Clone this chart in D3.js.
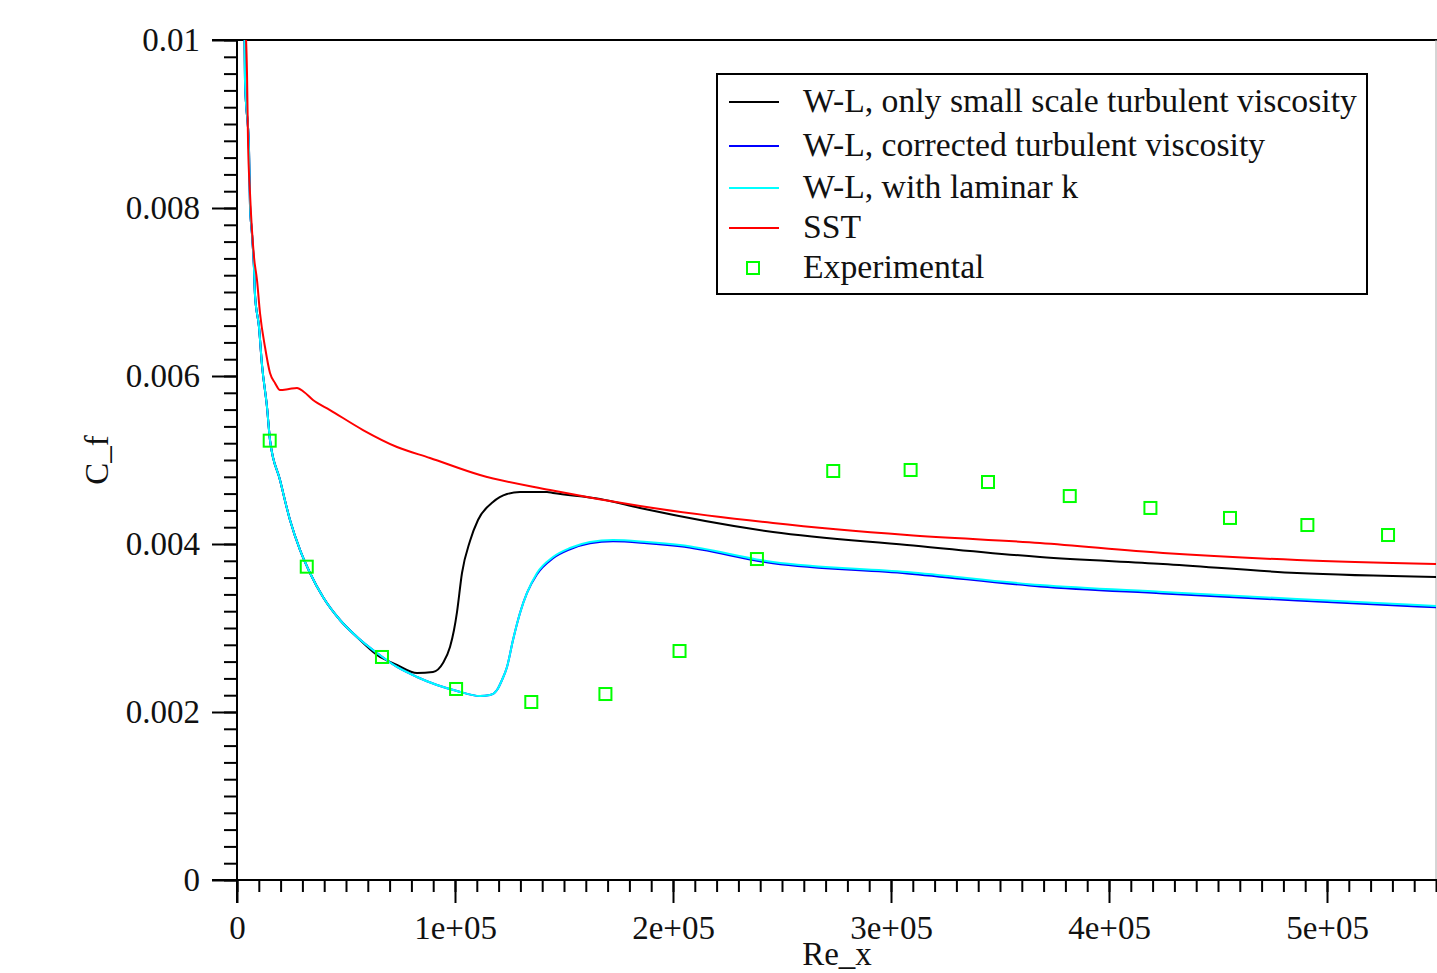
<!DOCTYPE html>
<html lang="en">
    <head>
        <meta charset="utf-8">
        <title>C_f vs Re_x</title>
        <script type="text/javascript" src="https://cdn.jsdelivr.net/npm/d3@7"></script>
        <style>
            body { margin: 0; background: #fff; }
            text { font-family: "Liberation Serif", "DejaVu Serif", serif; }
        </style>
    </head>
    <body>
        <script type="text/javascript">
        // experimental points
        var expRe = [15000, 32000, 66500, 100500, 135000, 169000, 203000, 238500, 273500, 309000, 344500, 382000, 419000, 455500, 491000, 528000];
        var expCf = [0.00523, 0.00373, 0.002655, 0.002274, 0.002119, 0.002214, 0.002726, 0.003821, 0.004869, 0.004881, 0.004738, 0.004571, 0.004429, 0.00431, 0.004226, 0.004107];

        // SST
        var sstRe = [3670, 4587, 5046, 5963, 7798, 9174, 10550, 12844, 15138, 17431, 19725, 23853, 27523, 30734, 34862, 42661, 57798, 73394, 88532, 111467, 143578, 184862, 245872, 307339, 368348, 424771, 486239, 550459];
        var sstCf = [0.01024, 0.009607, 0.00881, 0.008179, 0.007417, 0.007143, 0.00675, 0.006345, 0.006036, 0.005917, 0.005833, 0.005845, 0.005857, 0.00581, 0.005714, 0.005595, 0.005357, 0.005155, 0.005024, 0.004821, 0.004643, 0.004452, 0.00425, 0.004107, 0.004012, 0.003893, 0.00381, 0.003762];

        // W-L, with laminar k
        var lamRe = [3440, 3670, 5505, 5963, 6881, 7798, 8257, 10092, 11468, 13761, 15138, 19725, 24312, 28899, 33486, 39450, 47248, 55046, 64220, 73394, 82569, 91743, 100917, 111468, 116055, 119266, 121560, 123853, 126606, 129817, 133028, 137615, 144954, 152752, 161927, 172477, 188073, 203211, 245872, 307339, 368348, 424771, 486239, 550459];
        var lamCf = [0.01012, 0.009524, 0.00869, 0.008036, 0.00769, 0.007286, 0.006964, 0.006583, 0.006131, 0.005631, 0.005238, 0.004762, 0.004286, 0.003929, 0.003655, 0.003369, 0.003095, 0.002893, 0.002702, 0.002536, 0.002417, 0.002321, 0.00225, 0.00219, 0.002202, 0.002262, 0.002381, 0.002536, 0.002857, 0.003179, 0.003417, 0.003655, 0.003845, 0.003952, 0.004024, 0.004048, 0.004024, 0.003988, 0.003786, 0.003667, 0.003512, 0.003429, 0.003345, 0.003262];

        // W-L, corrected turbulent viscosity (sits just under the cyan one)
        var corRe = [3440, 3670, 5505, 5963, 6881, 7798, 8257, 10092, 11468, 13761, 15138, 19725, 24312, 28899, 33486, 39450, 47248, 55046, 64220, 73394, 82569, 91743, 100917, 111468, 116055, 119266, 121560, 123853, 126606, 129817, 133028, 137615, 144954, 152752, 161927, 172477, 188073, 203211, 245872, 307339, 368348, 424771, 486239, 550459];
        var corCf = [0.01012, 0.009524, 0.00869, 0.008036, 0.00769, 0.007286, 0.006964, 0.006583, 0.006131, 0.005631, 0.005238, 0.004762, 0.004286, 0.003929, 0.003655, 0.003369, 0.003095, 0.002893, 0.002702, 0.002536, 0.002417, 0.002321, 0.00225, 0.00219, 0.002202, 0.002262, 0.002381, 0.002536, 0.002857, 0.003179, 0.003417, 0.00364, 0.00383, 0.003937, 0.004009, 0.004033, 0.004009, 0.003972, 0.00377, 0.00365, 0.003495, 0.003412, 0.003328, 0.003245];

        // W-L, only small scale turbulent viscosity
        var smlRe = [3440, 3670, 5505, 5963, 6881, 7798, 8257, 10092, 11468, 13761, 15138, 19725, 24312, 28899, 33486, 39450, 47248, 55046, 64220, 73394, 82569, 89908, 94495, 97706, 99541, 100917, 103211, 106881, 110550, 117431, 123853, 129817, 142202, 144954, 166514, 184862, 245872, 307339, 368348, 424771, 486239, 550459];
        var smlCf = [0.01012, 0.009524, 0.00869, 0.008036, 0.00769, 0.007286, 0.006964, 0.006583, 0.006131, 0.005631, 0.005238, 0.004762, 0.004286, 0.003929, 0.003655, 0.003369, 0.003095, 0.002893, 0.002679, 0.00256, 0.002464, 0.002476, 0.002583, 0.002774, 0.002976, 0.00319, 0.003655, 0.004036, 0.004286, 0.0045, 0.004595, 0.004619, 0.004619, 0.004607, 0.004536, 0.004429, 0.004143, 0.003988, 0.003845, 0.003762, 0.003655, 0.003607];

        var seriesNames = ["W-L, only small scale turbulent viscosity", "W-L, corrected turbulent viscosity", "W-L, with laminar k", "SST", "Experimental"];
        var seriesColors = ["#000000", "#0000ff", "#00ffff", "#ff0000", "#00ff00"];

        var xTicks = [0, 1e5, 2e5, 3e5, 4e5, 5e5];
        var xTickLabels = ["0", "1e+05", "2e+05", "3e+05", "4e+05", "5e+05"];
        var yTicks = [0, 0.002, 0.004, 0.006, 0.008, 0.01];
        var yTickLabels = ["0", "0.002", "0.004", "0.006", "0.008", "0.01"];

        var w = 1437;
        var h = 973;
        var padL = 237, padR = 1436, padT = 40, padB = 880;
        var fs = "33px";

        var xScale = d3.scaleLinear().domain([0, 5.5e5]).range([padL, padR]);
        var yScale = d3.scaleLinear().domain([0, 0.01]).range([padB, padT]);

        var svg = d3.select("body")
                    .append("svg")
                    .attr("width", w)
                    .attr("height", h);

        svg.append("clipPath")
            .attr("id", "plotclip")
            .append("rect")
            .attr("x", padL)
            .attr("y", padT)
            .attr("width", padR - padL)
            .attr("height", padB - padT);

        // frame: top and right edges
        svg.append("line")
            .attr("x1", padL - 25).attr("x2", w)
            .attr("y1", padT).attr("y2", padT)
            .attr("stroke", "#000").attr("stroke-width", 2);
        svg.append("line")
            .attr("x1", padR).attr("x2", padR)
            .attr("y1", padT).attr("y2", padB)
            .attr("stroke", "#aaa").attr("stroke-width", 1);

        // minor ticks
        var minorX = d3.range(0, 5.5e5 + 1, 1e4);
        var minorY = d3.range(0, 0.01 + 1e-9, 0.0002);

        svg.append("g")
            .attr("transform", "translate(0," + padB + ")")
            .call(d3.axisBottom(xScale).tickValues(minorX).tickSize(12).tickFormat(""))
            .call(function(g) { g.select(".domain").remove(); })
            .selectAll("line").attr("stroke-width", 2);

        svg.append("g")
            .attr("transform", "translate(" + padL + ",0)")
            .call(d3.axisLeft(yScale).tickValues(minorY).tickSize(13).tickFormat(""))
            .call(function(g) { g.select(".domain").remove(); })
            .selectAll("line").attr("stroke-width", 2);

        // major axes
        var xAxis = svg.append("g")
            .attr("transform", "translate(0," + padB + ")")
            .call(d3.axisBottom(xScale)
                .tickValues(xTicks)
                .tickSize(23)
                .tickSizeOuter(0)
                .tickPadding(13)
                .tickFormat(function(d, i) { return xTickLabels[i]; }));
        xAxis.select(".domain").attr("d", "M" + (padL - 25) + ",0H" + w).attr("stroke-width", 2);
        xAxis.selectAll("line").attr("stroke-width", 2);
        xAxis.selectAll("text")
            .attr("font-size", fs)
            .attr("fill", "#111");

        var yAxis = svg.append("g")
            .attr("transform", "translate(" + padL + ",0)")
            .call(d3.axisLeft(yScale)
                .tickValues(yTicks)
                .tickSize(25)
                .tickSizeOuter(0)
                .tickPadding(12)
                .tickFormat(function(d, i) { return yTickLabels[i]; }));
        yAxis.select(".domain").attr("d", "M0," + (padB + 23) + "V" + padT).attr("stroke-width", 2);
        yAxis.selectAll("line").attr("stroke-width", 2);
        yAxis.selectAll("text")
            .attr("font-size", fs)
            .attr("fill", "#111");

        // axis titles
        svg.append("text")
            .attr("transform", "translate(108,460) rotate(-90)")
            .attr("text-anchor", "middle")
            .attr("font-size", fs)
            .attr("fill", "#111")
            .text("C_f");

        svg.append("text")
            .attr("x", 837)
            .attr("y", 965)
            .attr("text-anchor", "middle")
            .attr("font-size", fs)
            .attr("fill", "#111")
            .text("Re_x");

        // curves, drawn so that cyan covers black and blue where they share a path
        var line = d3.line()
                    .x(function(d) { return xScale(d[0]); })
                    .y(function(d) { return yScale(d[1]); })
                    .curve(d3.curveMonotoneX);

        var curves = [
            [smlRe, smlCf, 0],
            [corRe, corCf, 1],
            [lamRe, lamCf, 2],
            [sstRe, sstCf, 3]
        ];

        var plot = svg.append("g").attr("clip-path", "url(#plotclip)");

        plot.selectAll("path.curve")
            .data(curves)
            .enter()
            .append("path")
            .attr("class", "curve")
            .attr("d", function(c) { return line(d3.zip(c[0], c[1])); })
            .attr("fill", "none")
            .attr("stroke", function(c) { return seriesColors[c[2]]; })
            .attr("stroke-width", 2);

        var sq = 12;
        plot.selectAll("rect.exp")
            .data(d3.zip(expRe, expCf))
            .enter()
            .append("rect")
            .attr("class", "exp")
            .attr("x", function(d) { return xScale(d[0]) - sq / 2; })
            .attr("y", function(d) { return yScale(d[1]) - sq / 2; })
            .attr("width", sq)
            .attr("height", sq)
            .attr("fill", "none")
            .attr("stroke", seriesColors[4])
            .attr("stroke-width", 2);

        // legend
        var legend = svg.append("g");
        legend.append("rect")
            .attr("x", 717)
            .attr("y", 74)
            .attr("width", 650)
            .attr("height", 220)
            .attr("fill", "#fff")
            .attr("stroke", "#000")
            .attr("stroke-width", 2);

        var rowY = [102, 146, 188, 228, 268];

        var rows = legend.selectAll("g.row")
            .data(seriesNames)
            .enter()
            .append("g")
            .attr("class", "row")
            .attr("transform", function(d, i) { return "translate(0," + rowY[i] + ")"; });

        rows.filter(function(d, i) { return i < 4; })
            .append("line")
            .attr("x1", 729).attr("x2", 779)
            .attr("y1", 0).attr("y2", 0)
            .attr("stroke", function(d) { return seriesColors[seriesNames.indexOf(d)]; })
            .attr("stroke-width", 2);

        rows.filter(function(d, i) { return i == 4; })
            .append("rect")
            .attr("x", 747).attr("y", -6)
            .attr("width", 12).attr("height", 12)
            .attr("fill", "none")
            .attr("stroke", seriesColors[4])
            .attr("stroke-width", 2);

        rows.append("text")
            .attr("x", 803)
            .attr("y", 0)
            .attr("dy", "0.3em")
            .attr("font-size", "33.7px")
            .attr("fill", "#111")
            .text(function(d) { return d; });
        </script>
    </body>
</html>
